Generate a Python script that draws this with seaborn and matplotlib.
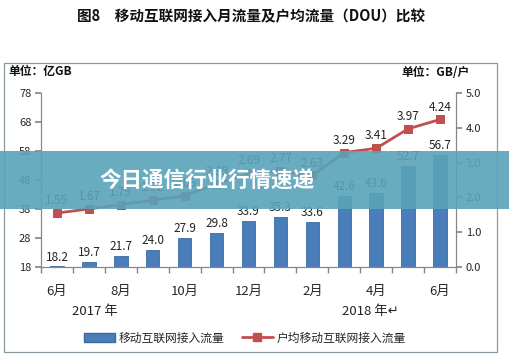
import matplotlib
matplotlib.use("Agg")
import matplotlib.pyplot as plt
import matplotlib.patches as mpatches
from matplotlib.lines import Line2D
import seaborn as sns
import numpy as np
import pandas as pd

months = ["6月", "7月", "8月", "9月", "10月", "11月", "12月",
          "1月", "2月", "3月", "4月", "5月", "6月"]
traffic = [18.2, 19.7, 21.7, 24.0, 27.9, 29.8, 33.9, 35.3, 33.6, 42.6, 43.6, 52.7, 56.7]
dou = [1.55, 1.67, 1.79, 1.92, 2.05, 2.39, 2.69, 2.77, 2.63, 3.29, 3.41, 3.97, 4.24]
shown_labels = ["6月", "", "8月", "", "10月", "", "12月", "", "2月", "", "4月", "", "6月"]
left_ticks = [18, 28, 38, 48, 58, 68, 78]
right_ticks = [0.0, 1.0, 2.0, 3.0, 4.0, 5.0]

sns.set_theme(style="white")
plt.rcParams['font.family'] = ['Noto Sans CJK SC', 'DejaVu Sans']

BLUE = "#4a7ebb"
RED = "#c0504d"
GRAY = "#868686"

fig = plt.figure(figsize=(5.10, 3.61), dpi=100)
ax = fig.add_axes([41/510, 1-267/361, (456-41)/510, (267-93)/361])

df = pd.DataFrame({"idx": np.arange(len(months)), "traffic": traffic, "dou": dou})
sns.barplot(data=df, x="idx", y="traffic", color=BLUE, width=0.42,
            edgecolor="#3a6aa0", linewidth=0.6, ax=ax, saturation=1)
ax.set_ylim(18, 78)
ax.set_xlim(-0.5, len(months) - 0.5)
ax.set_yticks(left_ticks)
ax.set_yticklabels([str(t) for t in left_ticks], fontsize=8)
ax.set_xticks(np.arange(len(months)))
ax.set_xticklabels(shown_labels, fontsize=9.5)
ax.set_xticks(np.arange(len(months) + 1) - 0.5, minor=True)
ax.tick_params(axis="x", which="major", length=0, pad=13)
ax.tick_params(axis="x", which="minor", length=4, color=GRAY, direction="out", bottom=True)
ax.tick_params(axis="y", length=4, color=GRAY, direction="out", left=True, pad=3)
ax.set_xlabel("")
ax.set_ylabel("")
ax.spines["top"].set_visible(False)
for s in ["left", "bottom", "right"]:
    ax.spines[s].set_color(GRAY)
    ax.spines[s].set_linewidth(0.8)

for i, v in enumerate(traffic):
    ax.text(i, v + 1.0, f"{v:.1f}", ha="center", va="bottom", fontsize=8.5, color="#222222")

ax2 = ax.twinx()
sns.lineplot(data=df, x="idx", y="dou", color=RED, marker="s", markersize=6,
             linewidth=2, markeredgecolor=RED, ax=ax2)
ax2.set_ylim(0, 5.0)
ax2.set_yticks(right_ticks)
ax2.set_yticklabels([f"{t:.1f}" for t in right_ticks], fontsize=8)
ax2.tick_params(axis="y", length=4, color=GRAY, direction="out", right=True, pad=3)
ax2.set_ylabel("")
ax2.set_xlabel("")
ax2.spines["top"].set_visible(False)
for s in ["left", "bottom", "right"]:
    ax2.spines[s].set_color(GRAY)
    ax2.spines[s].set_linewidth(0.8)
ax2.set_xlim(-0.5, len(months) - 0.5)
for i, v in enumerate(dou):
    ax2.text(i, v + 0.17, f"{v:.2f}", ha="center", va="bottom", fontsize=8.5, color="#222222")

# year labels
fig.text(95/510, 1-311/361, "2017 年", ha="center", va="center", fontsize=9.5, color="#222222")
fig.text(370/510, 1-311/361, "2018 年↵", ha="center", va="center", fontsize=9.5, color="#222222")

# legend
handles = [mpatches.Patch(facecolor=BLUE, edgecolor="#3a6aa0"),
           Line2D([0], [0], color=RED, lw=2, marker="s", markersize=6)]
fig.legend(handles, ["移动互联网接入流量", "户均移动互联网接入流量"],
           loc="center", bbox_to_anchor=(245/510, 1-338/361), ncol=2, frameon=False,
           fontsize=8.5, handlelength=2.6, columnspacing=1.5, handletextpad=0.3)

# title and units
fig.text(251/510, 1-16/361, "图8　移动互联网接入月流量及户均流量（DOU）比较",
         ha="center", va="center", fontsize=10.5, fontweight="bold", color="#111111")
fig.text(8/510, 1-72/361, "单位：亿GB", ha="left", va="center", fontsize=8.5,
         fontweight="bold", color="#111111")
fig.text(470/510, 1-72/361, "单位：GB/户", ha="right", va="center", fontsize=8.5,
         fontweight="bold", color="#111111")

# frame box
fig.patches.append(mpatches.Rectangle((4/510, 1-352/361), (497-4)/510, (352-63)/361,
                                      transform=fig.transFigure, fill=False,
                                      edgecolor="#8a9aa0", linewidth=0.9, zorder=0))

# overlay banner
fig.patches.append(mpatches.Rectangle((0, 1-209/361), 1, (209-151)/361,
                                      transform=fig.transFigure, facecolor="#5aa3b8",
                                      alpha=0.9, edgecolor="none", zorder=10))
fig.text(207/510, 1-181/361, "今日通信行业行情速递", ha="center", va="center",
         fontsize=15.5, fontweight="bold", color="white", zorder=11)

fig.savefig("out.png", dpi=100)
